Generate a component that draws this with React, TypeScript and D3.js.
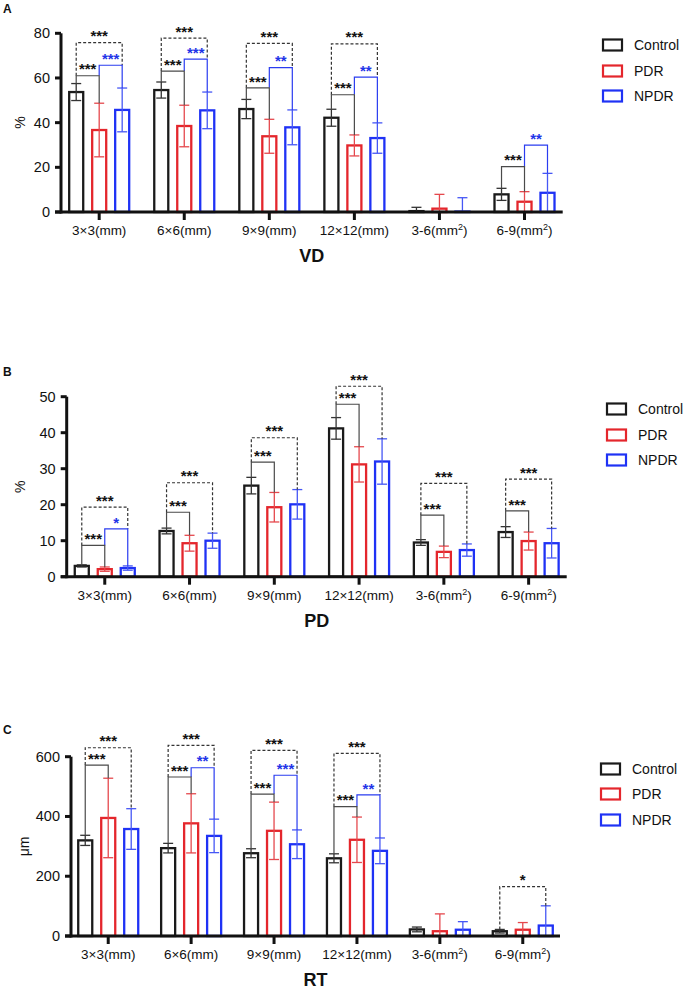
import React from "react";
import * as d3 from "d3";

const categories = ["3×3(mm)", "6×6(mm)", "9×9(mm)", "12×12(mm)", "3-6(mm²)", "6-9(mm²)"];
const groups = ["Control", "PDR", "NPDR"];
const groupColors = ["#1a1a1a", "#e4262c", "#1f32f5"];
const errColors = ["#333333", "#e5484d", "#4657f5"];

// VD (%)
const vdControl = [53.7, 54.6, 46.1, 42.2, 0.4, 7.9];
const vdControlSd = [3.8, 3.6, 4.3, 3.8, 1.7, 2.7];
const vdPDR = [36.7, 38.5, 33.9, 29.8, 1.5, 4.6];
const vdPDRSd = [12.0, 9.3, 7.6, 4.7, 6.4, 4.5];
const vdNPDR = [45.7, 45.5, 37.9, 33.1, 0.2, 8.6];
const vdNPDRSd = [9.8, 8.2, 7.8, 6.8, 6.2, 8.7];
const vdTicks = [0, 20, 40, 60, 80];

// PD (%)
const pdControl = [3.0, 12.7, 25.3, 41.2, 9.5, 12.4];
const pdControlSd = [0.3, 0.8, 2.3, 3.0, 0.8, 1.5];
const pdPDR = [2.1, 9.3, 19.3, 31.2, 6.9, 9.9];
const pdPDRSd = [0.6, 2.2, 4.1, 4.9, 1.6, 2.5];
const pdNPDR = [2.4, 10.0, 20.1, 32.0, 7.4, 9.3];
const pdNPDRSd = [0.6, 2.1, 4.1, 6.3, 1.7, 4.1];
const pdTicks = [0, 10, 20, 30, 40, 50];

// RT (µm)
const rtControl = [320, 294, 277, 260, 22, 16];
const rtControlSd = [17, 16, 15, 15, 8, 6];
const rtPDR = [395, 377, 352, 322, 16, 21];
const rtPDRSd = [133, 99, 96, 76, 58, 24];
const rtNPDR = [358, 335, 307, 285, 21, 35];
const rtNPDRSd = [68, 56, 48, 43, 27, 66];
const rtTicks = [0, 200, 400, 600];

type Bracket = { cat: number; from: number; to: number; y: number; label: string; kind: "dashed" | "gray" | "blue" };

const vdBrackets: Bracket[] = [
  { cat: 0, from: 0, to: 2, y: 75.8, label: "***", kind: "dashed" },
  { cat: 0, from: 1, to: 2, y: 65.7, label: "***", kind: "blue" },
  { cat: 0, from: 0, to: 1, y: 61.0, label: "***", kind: "gray" },
  { cat: 1, from: 0, to: 2, y: 77.8, label: "***", kind: "dashed" },
  { cat: 1, from: 1, to: 2, y: 68.4, label: "***", kind: "blue" },
  { cat: 1, from: 0, to: 1, y: 63.1, label: "***", kind: "gray" },
  { cat: 2, from: 0, to: 2, y: 75.5, label: "***", kind: "dashed" },
  { cat: 2, from: 1, to: 2, y: 64.6, label: "**", kind: "blue" },
  { cat: 2, from: 0, to: 1, y: 55.6, label: "***", kind: "gray" },
  { cat: 3, from: 0, to: 2, y: 75.3, label: "***", kind: "dashed" },
  { cat: 3, from: 1, to: 2, y: 60.4, label: "**", kind: "blue" },
  { cat: 3, from: 0, to: 1, y: 52.5, label: "***", kind: "gray" },
  { cat: 5, from: 1, to: 2, y: 29.9, label: "**", kind: "blue" },
  { cat: 5, from: 0, to: 1, y: 20.3, label: "***", kind: "gray" },
];

const pdBrackets: Bracket[] = [
  { cat: 0, from: 0, to: 2, y: 19.3, label: "***", kind: "dashed" },
  { cat: 0, from: 1, to: 2, y: 13.3, label: "*", kind: "blue" },
  { cat: 0, from: 0, to: 1, y: 8.7, label: "***", kind: "gray" },
  { cat: 1, from: 0, to: 2, y: 26.1, label: "***", kind: "dashed" },
  { cat: 1, from: 0, to: 1, y: 17.9, label: "***", kind: "gray" },
  { cat: 2, from: 0, to: 2, y: 38.6, label: "***", kind: "dashed" },
  { cat: 2, from: 0, to: 1, y: 31.8, label: "***", kind: "gray" },
  { cat: 3, from: 0, to: 2, y: 52.9, label: "***", kind: "dashed" },
  { cat: 3, from: 0, to: 1, y: 47.9, label: "***", kind: "gray" },
  { cat: 4, from: 0, to: 2, y: 25.9, label: "***", kind: "dashed" },
  { cat: 4, from: 0, to: 1, y: 17.1, label: "***", kind: "gray" },
  { cat: 5, from: 0, to: 2, y: 27.1, label: "***", kind: "dashed" },
  { cat: 5, from: 0, to: 1, y: 18.3, label: "***", kind: "gray" },
];

const rtBrackets: Bracket[] = [
  { cat: 0, from: 0, to: 2, y: 630, label: "***", kind: "dashed" },
  { cat: 0, from: 0, to: 1, y: 572, label: "***", kind: "gray" },
  { cat: 1, from: 0, to: 2, y: 638, label: "***", kind: "dashed" },
  { cat: 1, from: 1, to: 2, y: 563, label: "**", kind: "blue" },
  { cat: 1, from: 0, to: 1, y: 532, label: "***", kind: "gray" },
  { cat: 2, from: 0, to: 2, y: 621, label: "***", kind: "dashed" },
  { cat: 2, from: 1, to: 2, y: 538, label: "***", kind: "blue" },
  { cat: 2, from: 0, to: 1, y: 475, label: "***", kind: "gray" },
  { cat: 3, from: 0, to: 2, y: 611, label: "***", kind: "dashed" },
  { cat: 3, from: 1, to: 2, y: 472, label: "**", kind: "blue" },
  { cat: 3, from: 0, to: 1, y: 433, label: "***", kind: "gray" },
  { cat: 5, from: 0, to: 2, y: 165, label: "*", kind: "dashed" },
];

const FONT = "'Liberation Sans', Arial, Helvetica, sans-serif";

type PanelProps = {
  letter: string;
  title: string;
  yLabel: string;
  means: number[][];
  sds: number[][];
  ticks: number[];
  brackets: Bracket[];
  left: number;
  right: number;
  y0: number;
  yTop: number;
  letterY: number;
  yLabelX: number;
  legendX: number;
  legendY: number[];
};

function CatLabel({ text, x, y }: { text: string; x: number; y: number }) {
  if (text.includes("²")) {
    const [a, b] = text.split("²");
    return (
      <text x={x} y={y} textAnchor="middle" fontSize={13.5} fontFamily={FONT} fill="#111">
        {a}
        <tspan fontSize={9} dy={-5}>2</tspan>
        <tspan dy={5}>{b}</tspan>
      </text>
    );
  }
  return (
    <text x={x} y={y} textAnchor="middle" fontSize={13.5} fontFamily={FONT} fill="#111">
      {text}
    </text>
  );
}

function Panel(p: PanelProps) {
  const x = d3.scalePoint<string>().domain(categories).range([p.left, p.right]).padding(0.449);
  const xs = d3.scaleBand<string>().domain(groups).range([-30, 30]).paddingInner(0.39);
  const y = d3.scaleLinear().domain([0, p.ticks[p.ticks.length - 1]]).range([p.y0, p.yTop]);
  const bw = xs.bandwidth();
  const cx = (c: number, g: number) => (x(categories[c]) as number) + (xs(groups[g]) as number) + bw / 2;
  const errTop = (c: number, g: number) => p.means[g][c] + p.sds[g][c];

  const legBottom = (b: Bracket, g: number) => {
    let v = errTop(b.cat, g);
    p.brackets.forEach((o) => {
      if (o !== b && o.cat === b.cat && o.y < b.y && (o.from === g || o.to === g)) v = Math.max(v, o.y);
    });
    return v;
  };

  const bracketColor = { dashed: "#333", gray: "#4a4a4a", blue: "#2a3cf0" };
  const labelColor = { dashed: "#111", gray: "#111", blue: "#1f35e8" };

  return (
    <g>
      <text x={3} y={p.letterY} fontSize={12} fontWeight="bold" fontFamily={FONT} fill="#111">
        {p.letter}
      </text>
      {/* bars */}
      {groups.map((g, gi) =>
        categories.map((c, ci) => {
          const m = p.means[gi][ci];
          const bx = (x(c) as number) + (xs(g) as number);
          return (
            <rect
              key={`b-${gi}-${ci}`}
              x={bx}
              y={y(m)}
              width={bw}
              height={Math.max(0, p.y0 - y(m))}
              fill="white"
              stroke={groupColors[gi]}
              strokeWidth={2.3}
            />
          );
        })
      )}
      {/* error bars */}
      {groups.map((g, gi) =>
        categories.map((c, ci) => {
          const m = p.means[gi][ci];
          const s = p.sds[gi][ci];
          const xc = cx(ci, gi);
          const yt = y(m + s);
          const yb = y(Math.max(0, m - s));
          return (
            <g key={`e-${gi}-${ci}`} stroke={errColors[gi]} strokeWidth={1.3}>
              <line x1={xc} x2={xc} y1={yt} y2={yb} />
              <line x1={xc - 5} x2={xc + 5} y1={yt} y2={yt} />
              <line x1={xc - 5} x2={xc + 5} y1={yb} y2={yb} />
            </g>
          );
        })
      )}
      {/* brackets */}
      {p.brackets.map((b, i) => {
        const xa = cx(b.cat, b.from);
        const xb = cx(b.cat, b.to);
        const yb = y(b.y);
        const la = y(legBottom(b, b.from));
        const lb = y(legBottom(b, b.to));
        const d = `M${xa},${la}L${xa},${yb}L${xb},${yb}L${xb},${lb}`;
        return (
          <g key={`br-${i}`}>
            <path
              d={d}
              fill="none"
              stroke={bracketColor[b.kind]}
              strokeWidth={1.2}
              strokeDasharray={b.kind === "dashed" ? "3,2" : undefined}
            />
            <text
              x={(xa + xb) / 2}
              y={yb - 1.3}
              textAnchor="middle"
              fontSize={15}
              fontWeight="bold"
              fontFamily={FONT}
              fill={labelColor[b.kind]}
            >
              {b.label}
            </text>
          </g>
        );
      })}
      {/* axes */}
      <line x1={p.left} x2={p.left} y1={p.yTop} y2={p.y0 + 1.5} stroke="#111" strokeWidth={3} />
      <line x1={p.left - 6} x2={p.right} y1={p.y0} y2={p.y0} stroke="#111" strokeWidth={3} />
      {p.ticks.map((t) => (
        <g key={`yt-${t}`}>
          <line x1={p.left - 6} x2={p.left} y1={y(t)} y2={y(t)} stroke="#111" strokeWidth={3} />
          <text
            x={p.left - 11}
            y={y(t) + 5}
            textAnchor="end"
            fontSize={14.5}
            fontFamily={FONT}
            fill="#111"
          >
            {t}
          </text>
        </g>
      ))}
      {categories.map((c) => (
        <g key={`xt-${c}`}>
          <line x1={x(c)} x2={x(c)} y1={p.y0} y2={p.y0 + 8} stroke="#111" strokeWidth={3} />
          <CatLabel text={c} x={x(c) as number} y={p.y0 + 23} />
        </g>
      ))}
      <text
        transform={`translate(${p.yLabelX},${(p.y0 + p.yTop) / 2}) rotate(-90)`}
        textAnchor="middle"
        dy={5}
        fontSize={14}
        fontFamily={FONT}
        fill="#111"
      >
        {p.yLabel}
      </text>
      <text
        x={(p.left + p.right) / 2}
        y={p.y0 + 50}
        textAnchor="middle"
        fontSize={18}
        fontWeight="bold"
        fontFamily={FONT}
        fill="#111"
      >
        {p.title}
      </text>
      {/* legend */}
      {groups.map((g, gi) => (
        <g key={`lg-${g}`}>
          <rect
            x={p.legendX}
            y={p.legendY[gi] - 5.5}
            width={19}
            height={11}
            fill="white"
            stroke={groupColors[gi]}
            strokeWidth={2.2}
          />
          <text x={p.legendX + 31} y={p.legendY[gi] + 5} fontSize={14} fontFamily={FONT} fill="#111">
            {g}
          </text>
        </g>
      ))}
    </g>
  );
}

export default function App() {
  return (
    <svg
      width={686}
      height={991}
      viewBox="0 0 686 991"
      style={{ position: "absolute", left: 0, top: 0, display: "block", background: "white" }}
    >
      <rect x={0} y={0} width={686} height={991} fill="white" />
      <Panel
        letter="A"
        title="VD"
        yLabel="%"
        means={[vdControl, vdPDR, vdNPDR]}
        sds={[vdControlSd, vdPDRSd, vdNPDRSd]}
        ticks={vdTicks}
        brackets={vdBrackets}
        left={61}
        right={562.7}
        y0={212}
        yTop={33.3}
        letterY={13}
        yLabelX={20}
        legendX={603}
        legendY={[45, 71, 96]}
      />
      <Panel
        letter="B"
        title="PD"
        yLabel="%"
        means={[pdControl, pdPDR, pdNPDR]}
        sds={[pdControlSd, pdPDRSd, pdNPDRSd]}
        ticks={pdTicks}
        brackets={pdBrackets}
        left={66.7}
        right={566.7}
        y0={576.7}
        yTop={396.7}
        letterY={376}
        yLabelX={20}
        legendX={607}
        legendY={[409, 435, 460]}
      />
      <Panel
        letter="C"
        title="RT"
        yLabel="μm"
        means={[rtControl, rtPDR, rtNPDR]}
        sds={[rtControlSd, rtPDRSd, rtNPDRSd]}
        ticks={rtTicks}
        brackets={rtBrackets}
        left={71}
        right={560}
        y0={936}
        yTop={756.7}
        letterY={734}
        yLabelX={23.5}
        legendX={601}
        legendY={[769, 794, 820]}
      />
    </svg>
  );
}
